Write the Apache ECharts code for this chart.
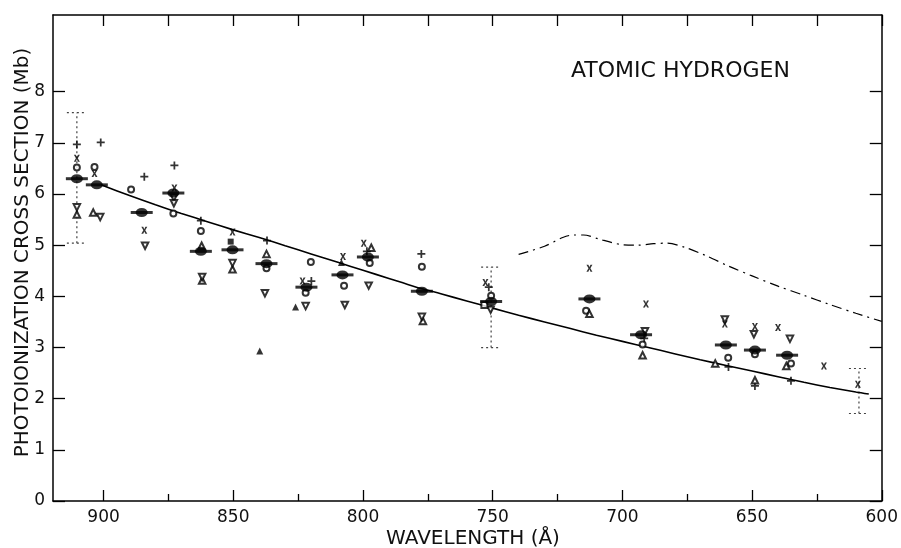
<!DOCTYPE html>
<html><head><meta charset="utf-8">
<script src="https://cdn.jsdelivr.net/npm/echarts@6/dist/echarts.min.js"></script>
<style>html,body{margin:0;padding:0;background:#fff}#c{width:901px;height:548px}</style>
</head><body><div id="c"></div>
<script>
// ---- data ----
const xMajorTicks = [900, 850, 800, 750, 700, 650, 600];
const xMinorTicks = [875, 825, 775, 725, 675, 625];
const xTopTicks = [900, 875, 850, 825, 800, 775, 750, 725, 700, 675, 650, 625, 600];
const yTicks = [0, 1, 2, 3, 4, 5, 6, 7, 8];

const theoryWl = [901,890,880,870,860,850,840,830,820,810,800,790,780,770,760,750,740,730,720,710,700,690,680,670,660,650,640,630,620,610,605];
const theoryCs = [6.18,5.97,5.79,5.62,5.46,5.30,5.15,4.99,4.83,4.67,4.51,4.35,4.19,4.05,3.91,3.77,3.63,3.50,3.37,3.24,3.12,3.00,2.88,2.76,2.65,2.54,2.43,2.32,2.22,2.13,2.09];

const dashWl = [740,730,723,719,715,709,704,700,694,688,683,676,668,659,650,640,630,620,610,600];
const dashCs = [4.82,4.98,5.15,5.20,5.20,5.12,5.05,5.01,5.00,5.03,5.04,4.96,4.80,4.59,4.40,4.20,4.02,3.84,3.67,3.51];

// error bars: wavelength, low, high
const errWl = [910.3, 750.6, 608.8];
const errLo = [5.04, 3.00, 1.71];
const errHi = [7.59, 4.57, 2.59];

const meanPts = [[910.3,6.30],[902.6,6.18],[885.3,5.64],[873.1,6.02],[862.5,4.88],[850.3,4.91],[837.2,4.64],[821.8,4.18],[807.9,4.42],[798.1,4.77],[777.3,4.10],[750.6,3.90],[712.7,3.95],[692.8,3.25],[660.1,3.05],[648.9,2.95],[636.5,2.85]];
const plusPts = [[910.3,6.97],[901.1,7.01],[884.3,6.34],[872.7,6.56],[862.5,5.48],[837.0,5.09],[819.9,4.30],[798.5,4.88],[777.5,4.83],[751.5,4.18],[691.6,3.18],[659.1,2.62],[648.9,2.25],[635.0,2.35]];
const crossPts = [[910.3,6.70],[903.5,6.40],[884.3,5.29],[872.7,6.12],[850.3,5.26],[823.3,4.30],[807.7,4.78],[799.7,5.04],[752.8,4.27],[712.7,4.55],[690.9,3.85],[660.5,3.46],[648.9,3.41],[640.0,3.39],[622.3,2.64],[609.2,2.28]];
const circlePts = [[910.3,6.52],[903.5,6.53],[889.4,6.09],[873.1,5.62],[862.5,5.28],[837.2,4.55],[820.1,4.67],[822.1,4.07],[807.3,4.21],[797.4,4.65],[777.3,4.58],[750.6,4.01],[714.0,3.72],[692.2,3.06],[659.2,2.80],[648.9,2.87],[635.0,2.69]];
const triUpPts = [[910.3,5.60],[904.0,5.64],[862.2,4.99],[862.0,4.31],[850.3,4.53],[837.2,4.83],[796.8,4.95],[776.9,3.52],[712.7,3.66],[692.2,2.85],[664.2,2.69],[648.9,2.36],[636.8,2.64]];
const triDownPts = [[910.3,5.74],[901.3,5.55],[884.0,4.99],[872.9,5.93],[872.9,5.82],[862.0,4.38],[850.3,4.65],[837.8,4.06],[822.1,3.81],[807.0,3.83],[797.8,4.21],[777.3,3.60],[750.8,3.74],[691.3,3.32],[660.5,3.55],[649.3,3.26],[635.4,3.17]];
const triFilledPts = [[839.8,2.93],[826.0,3.79],[808.3,4.66]];
const squareFilledPts = [[851.0,5.07]];
const squareOpenPts = [[753.2,3.83]];

// ---- chart ----
const FONT = '"DejaVu Sans", sans-serif';
const chart = echarts.init(document.getElementById('c'), null, {renderer: 'canvas'});
const zip = (a, b) => a.map((v, i) => [v, b[i]]);
const axisLine = {show: true, lineStyle: {color: '#000', width: 1.5}};
const xBase = {type: 'value', min: 600, max: 919.5, inverse: true, splitLine: {show: false}};
const yBase = {type: 'value', min: 0, max: 9.5, splitLine: {show: false}};

const plusPath = 'path://M3.9,0H6.1V3.9H10V6.1H6.1V10H3.9V6.1H0V3.9H3.9Z';
const crossPath = 'path://M0,0H3.2L5,3.4L6.8,0H10L6.6,5L10,10H6.8L5,6.6L3.2,10H0L3.4,5Z';

function scatter(data, symbol, size, opts) {
  return Object.assign({
    type: 'scatter', data: data, symbol: symbol, symbolSize: size,
    xAxisIndex: 0, yAxisIndex: 0, z: 3,
    itemStyle: {color: '#000'}, emphasis: {disabled: true}
  }, opts || {});
}
const emptyStyle = {color: '#000', borderColor: '#000', borderWidth: 1.6};

const option = {
  animation: false,
  backgroundColor: '#fff',
  grid: {left: 53, right: 19, top: 15, bottom: 47},
  xAxis: [
    Object.assign({}, xBase, {position: 'bottom', axisLine: axisLine,
      axisTick: {show: true, inside: true, length: 11, customValues: xMajorTicks, lineStyle: {color: '#000', width: 1.3}},
      axisLabel: {show: true, customValues: xMajorTicks, margin: 8, color: '#111', fontFamily: FONT, fontSize: 17}}),
    Object.assign({}, xBase, {position: 'bottom', axisLine: {show: false},
      axisTick: {show: true, inside: true, length: 7, customValues: xMinorTicks, lineStyle: {color: '#000', width: 1.3}},
      axisLabel: {show: false}}),
    Object.assign({}, xBase, {position: 'top', axisLine: axisLine,
      axisTick: {show: true, inside: true, length: 11, customValues: xTopTicks, lineStyle: {color: '#000', width: 1.3}},
      axisLabel: {show: false}})
  ],
  yAxis: [
    Object.assign({}, yBase, {position: 'left', axisLine: axisLine,
      axisTick: {show: true, inside: true, length: 12, customValues: yTicks, lineStyle: {color: '#000', width: 1.3}},
      axisLabel: {show: true, customValues: yTicks, margin: 8, color: '#111', fontFamily: FONT, fontSize: 17}}),
    Object.assign({}, yBase, {position: 'right', axisLine: axisLine,
      axisTick: {show: true, inside: true, length: 12, customValues: yTicks, lineStyle: {color: '#000', width: 1.3}},
      axisLabel: {show: false}})
  ],
  graphic: [
    {type: 'text', x: 571, y: 71.4, style: {text: 'ATOMIC HYDROGEN', font: '22px ' + FONT, fill: '#111', textAlign: 'left', textVerticalAlign: 'middle'}},
    {type: 'text', x: 22.4, y: 252.5, rotation: Math.PI / 2, style: {text: 'PHOTOIONIZATION CROSS SECTION (Mb)', font: '20px ' + FONT, fill: '#111', textAlign: 'center', textVerticalAlign: 'middle'}},
    {type: 'text', x: 473, y: 539, style: {text: 'WAVELENGTH (Å)', font: '20px ' + FONT, fill: '#111', textAlign: 'center', textVerticalAlign: 'middle'}}
  ],
  series: [
    {type: 'line', data: zip(theoryWl, theoryCs), smooth: 0.3, showSymbol: false, xAxisIndex: 0, yAxisIndex: 0,
      lineStyle: {color: '#000', width: 1.6}, z: 2, silent: true},
    {type: 'line', data: zip(dashWl, dashCs), smooth: 0.3, showSymbol: false, xAxisIndex: 0, yAxisIndex: 0,
      lineStyle: {color: '#000', width: 1.2, type: [10, 5, 2, 5]}, z: 2, silent: true},
    {type: 'custom', xAxisIndex: 0, yAxisIndex: 0, z: 1, silent: true,
      data: errWl.map((w, i) => [w, errLo[i], errHi[i]]),
      encode: {x: 0, y: [1, 2]},
      renderItem: function (params, api) {
        const w = api.value(0);
        const pLo = api.coord([w, api.value(1)]);
        const pHi = api.coord([w, api.value(2)]);
        const hw = 10;
        const st = {stroke: '#444', lineWidth: 1.2, lineDash: [2, 3], fill: null};
        return {type: 'group', children: [
          {type: 'line', shape: {x1: pLo[0], y1: pLo[1], x2: pHi[0], y2: pHi[1]}, style: st},
          {type: 'line', shape: {x1: pLo[0] - hw, y1: pLo[1], x2: pLo[0] + hw, y2: pLo[1]}, style: st},
          {type: 'line', shape: {x1: pHi[0] - hw, y1: pHi[1], x2: pHi[0] + hw, y2: pHi[1]}, style: st}
        ]};
      }},
    scatter(plusPts, plusPath, 8),
    scatter(crossPts, crossPath, [6, 7]),
    scatter(circlePts, 'emptyCircle', 6, {itemStyle: emptyStyle}),
    scatter(triUpPts, 'emptyTriangle', 6.5, {itemStyle: emptyStyle}),
    scatter(triDownPts, 'emptyTriangle', 6.5, {symbolRotate: 180, itemStyle: emptyStyle}),
    scatter(triFilledPts, 'triangle', 7),
    scatter(squareFilledPts, 'rect', 6),
    scatter(squareOpenPts, 'emptyRect', 6, {itemStyle: emptyStyle}),
    scatter(meanPts, 'rect', [22, 3], {z: 4}),
    scatter(meanPts, 'circle', [12, 9], {z: 5})
  ]
};
chart.setOption(option);
</script></body></html>
